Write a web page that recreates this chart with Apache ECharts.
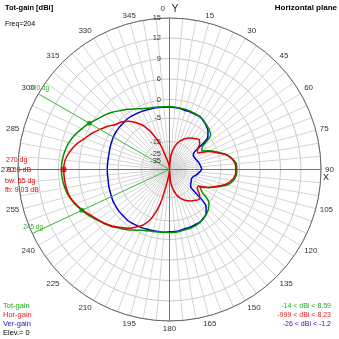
<!DOCTYPE html>
<html><head><meta charset="utf-8">
<script src="https://cdn.jsdelivr.net/npm/echarts@6/dist/echarts.min.js"></script>
<style>html,body{margin:0;padding:0;background:#fff}#c{width:339px;height:339px}</style>
</head><body><div id="c"></div>
<script>
// ---- data (dBi) ----
const angles = [0,5,10,15,20,25,30,35,40,45,50,55,60,65,70,75,80,85,90,95,100,105,110,115,120,125,130,135,140,145,150,155,160,165,170,175,
  180,185,190,195,200,205,210,215,220,225,230,235,240,245,250,255,260,265,270,275,280,285,290,295,300,305,310,315,320,325,330,335,340,345,350,355];
const totGain = [-1.9,-2.0,-2.1,-2.1,-2.2,-2.3,-2.4,-2.8,-3.3,-3.7,-4.4,-9.8,-11.1,-8.0,-5.2,-3.1,-1.7,-0.8,-0.7,-0.8,-1.4,-2.8,-5.4,-8.7,-12.0,-9.8,-5.0,-4.0,-3.3,-2.8,-2.4,-2.2,-2.1,-2.1,-2.0,-1.9,
  -1.9,-1.9,-1.8,-1.6,-1.3,-0.8,0.0,1.0,2.0,3.2,4.3,5.3,6.3,6.9,7.5,8.0,8.3,8.5,8.59,8.5,8.3,8.0,7.5,6.9,6.3,5.3,4.3,3.2,2.0,1.0,0.0,-0.8,-1.3,-1.6,-1.8,-1.9];
const horGain = [-60,-30,-21.7,-16.7,-14.1,-12.7,-11.5,-10.6,-9.8,-9.0,-10.2,-12.4,-12.8,-8.9,-5.9,-3.3,-1.9,-1.1,-1.0,-1.1,-1.9,-3.3,-5.9,-8.9,-12.8,-12.4,-10.2,-9.0,-9.8,-10.6,-11.5,-12.7,-14.1,-16.7,-21.7,-30,
  -60,-50,-30,-12,-5,-2.5,-1.0,0.5,1.7,3.0,4.1,5.1,6.1,6.8,7.4,7.9,8.1,8.2,8.23,8.1,7.6,6.9,6.0,4.6,3.0,1.6,0.0,-0.7,-1.9,-3.6,-5.9,-10.6,-16.7,-31,-40,-50];
const verGain = [-2.1,-2.1,-2.2,-2.4,-2.4,-2.5,-2.5,-2.9,-3.5,-4.2,-5.7,-14.1,-15.4,-15.2,-14.8,-14.3,-13.9,-13.5,-13.2,-14.1,-15.0,-17.1,-18.3,-18.3,-17.5,-16.9,-15.0,-5.0,-3.5,-2.9,-2.5,-2.5,-2.4,-2.4,-2.2,-2.1,
  -2.1,-1.9,-1.9,-1.8,-1.7,-1.5,-1.4,-1.2,-1.1,-1.2,-1.2,-1.3,-1.4,-1.6,-1.8,-1.9,-2.1,-2.1,-2.1,-2.1,-2.1,-2.0,-1.8,-1.6,-1.4,-1.25,-1.2,-1.2,-1.1,-1.2,-1.4,-1.5,-1.7,-1.8,-1.9,-2.0];
const ringLabels = [15,12,9,6,0,-5,-15,-25,-35];
const bwAngles = [300,245];
const maxAngle = 270;

// ---- radial dB scale of the plot (piecewise, as in the reference grid) ----
const scaleDb = [-60,-35,-25,-15,-5,0,6,9,12,15];
const scaleR  = [0,8.5,16,28,51.5,70,90.5,111,131.5,151.5];
const R = 151.5;
function dbToR(db){
  if (db <= scaleDb[0]) return 0;
  for (let i=1;i<scaleDb.length;i++){
    if (db <= scaleDb[i]) { const t=(db-scaleDb[i-1])/(scaleDb[i]-scaleDb[i-1]); return scaleR[i-1]+t*(scaleR[i]-scaleR[i-1]); }
  }
  return R;
}
function toPolar(arr){
  const d = angles.map((a,i)=>[dbToR(arr[i]), a]);
  d.push([dbToR(arr[0]), 360]);
  return d;
}
const gainAt = (arr,a)=>arr[angles.indexOf(a)];

const GREEN='#009000', RED='#e00000', BLUE='#0000d0';
const FONT='Liberation Sans';
const ringR = ringLabels.map(dbToR);

const chart = echarts.init(document.getElementById('c'), null, {renderer:'canvas'});
const txt = (x,y,text,fill,opt={}) => ({type:'text', x, y, z:100, style:{text, fill, font:`${opt.bold?'bold ':''}${opt.size||8}px "${FONT}"`, align:opt.align||'left', verticalAlign:'middle'}});
chart.setOption({
  animation:false,
  polar:{center:['50%','50%'], radius:R},
  angleAxis:{type:'value', min:0, max:360, interval:5, startAngle:90, clockwise:true,
    axisLine:{show:true, lineStyle:{color:'#666', width:1}},
    axisTick:{show:false},
    splitLine:{show:true, lineStyle:{color:'#d4d4d4', width:1}},
    axisLabel:{margin:4, color:'#333', fontSize:8, fontFamily:FONT,
      formatter:v=> (v===0 ? '{a|0}   {y|Y}' : (v%15===0 && v<360 ? String(v) : '')),
      rich:{a:{fontSize:8, fontFamily:FONT, color:'#333'}, y:{fontSize:10, fontFamily:FONT, color:'#222'}}}
  },
  radiusAxis:{type:'value', min:0, max:R,
    axisLine:{show:false},
    axisTick:{show:false, customValues:ringR},
    axisLabel:{show:false},
    splitLine:{show:true, lineStyle:{color:'#c8c8c8', width:1}}
  },
  graphic:[
    txt(5,8,'Tot-gain [dBi]','#000',{bold:true,size:7.5}),
    txt(5,24,'Freq=204','#000',{size:7}),
    txt(337,8,'Horizontal plane','#000',{bold:true,size:8,align:'right'}),
    txt(323,178,'X','#222',{size:9}),
    txt(6,160,'270 dg',RED,{size:7}),
    txt(7,170,'8.59 dB',RED,{size:7}),
    txt(5,181,'bw: 55 dg',RED,{size:7}),
    txt(5,190,'fb: 9.03 dB',RED,{size:7}),
    txt(3,306,'Tot-gain','#22aa22',{size:7.5}),
    txt(3,315,'Hor-gain','#e02020',{size:7.5}),
    txt(3,324,'Ver-gain','#2020c0',{size:7.5}),
    txt(3,333,'Elev.= 0','#000',{size:7.5}),
    txt(331,306,'-14 < dBi < 8.59','#22aa22',{size:7,align:'right'}),
    txt(331,315,'-999 < dBi < 8.23','#e02020',{size:7,align:'right'}),
    txt(331,324,'-26 < dBi < -1.2','#2020c0',{size:7,align:'right'})
  ],
  series:[
    {type:'line', coordinateSystem:'polar', data:[[R,0],[R,180]], symbol:'none', silent:true, lineStyle:{color:'#777',width:1}, z:1},
    {type:'line', coordinateSystem:'polar', data:[[R,90],[R,270]], symbol:'none', silent:true, lineStyle:{color:'#777',width:1}, z:1},
    // ring labels along the 0-degree axis
    {type:'scatter', coordinateSystem:'polar', clip:false, symbolSize:1, silent:true, z:9,
      itemStyle:{color:'#fff', opacity:0},
      label:{show:true, position:'left', distance:8, formatter:p=>String(ringLabels[p.dataIndex]), color:'#333', opacity:1, fontSize:7.5, fontFamily:FONT},
      data:ringLabels.map(db=>[dbToR(db),0])},
    {name:'Ver-gain', type:'line', coordinateSystem:'polar', data:toPolar(verGain), symbol:'none', smooth:0.25, lineStyle:{color:BLUE,width:1.5}, z:3},
    {name:'Tot-gain', type:'line', coordinateSystem:'polar', data:toPolar(totGain), symbol:'none', smooth:0.25, lineStyle:{color:GREEN,width:1.5}, z:4},
    {name:'Hor-gain', type:'line', coordinateSystem:'polar', data:toPolar(horGain), symbol:'none', smooth:0.25, lineStyle:{color:RED,width:1.5}, z:5},
    // beamwidth markers
    ...bwAngles.map(a=>({type:'line', coordinateSystem:'polar', clip:false, symbol:'none', silent:true, z:6,
      lineStyle:{color:'#40c040',width:1}, data:[[0,a],[R-1,a]]})),
    {type:'scatter', coordinateSystem:'polar', clip:false, symbolSize:1, silent:true, z:8, itemStyle:{color:'#fff', opacity:0},
      label:{show:true, position:'top', distance:2, formatter:p=>p.value[1]+' dg', color:'#30b030', opacity:1, fontSize:6.5, fontFamily:FONT},
      data:bwAngles.map(a=>[R-1,a])},
    {type:'line', coordinateSystem:'polar', clip:false, symbol:'none', silent:true, z:6, lineStyle:{color:'#ff3030',width:1},
      data:[[0,maxAngle],[R+15,maxAngle]]},
    {type:'scatter', coordinateSystem:'polar', symbolSize:5, z:7, itemStyle:{color:GREEN},
      data:bwAngles.map(a=>[dbToR(gainAt(totGain,a)),a])},
    {type:'scatter', coordinateSystem:'polar', symbolSize:6, z:7, itemStyle:{color:RED},
      data:[[dbToR(gainAt(horGain,maxAngle)),maxAngle]]}
  ]
});
</script></body></html>
